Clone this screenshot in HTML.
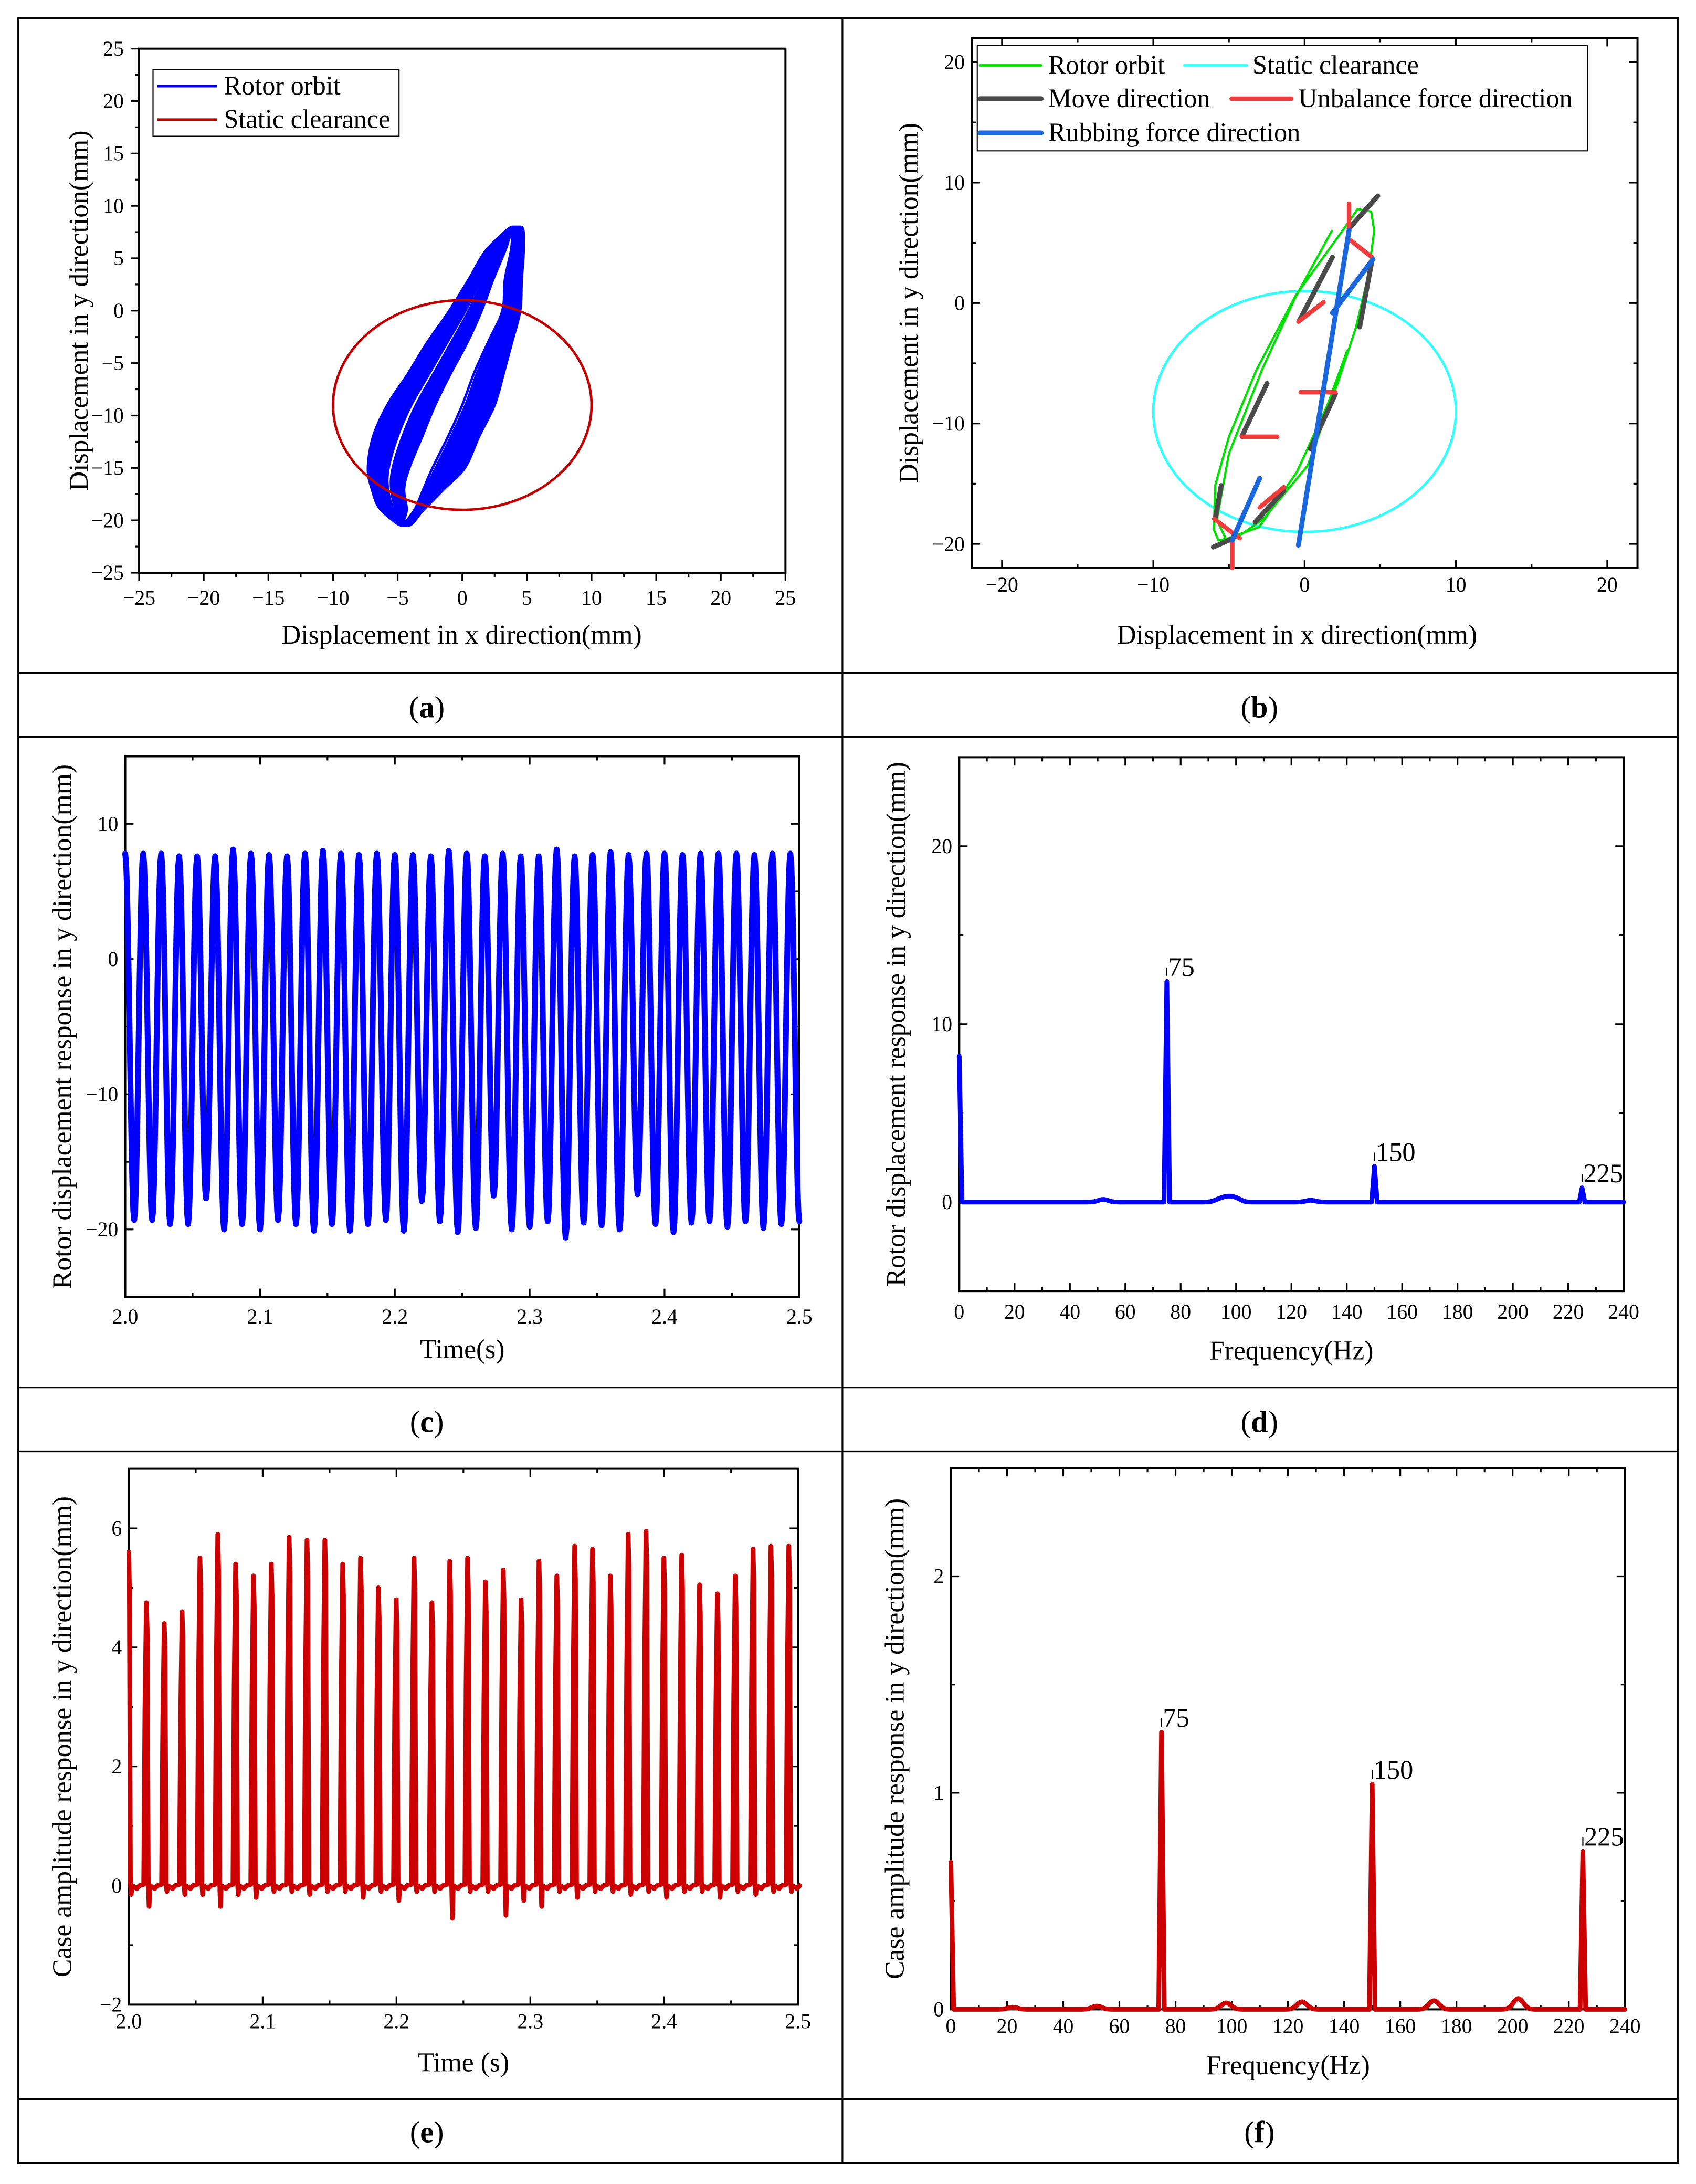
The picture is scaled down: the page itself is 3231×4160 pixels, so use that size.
<!DOCTYPE html>
<html><head><meta charset="utf-8"><style>
html,body{margin:0;padding:0;background:#fff;}
svg{display:block;font-family:"Liberation Serif",serif;}
</style></head><body>
<svg id="fig" width="3231" height="4160" viewBox="0 0 1220 1571" xmlns="http://www.w3.org/2000/svg">
<g id="frame" fill="none" stroke="#000" stroke-width="1.2">
<rect x="13" y="13" width="1194" height="1543"/>
<line x1="606" y1="13" x2="606" y2="1556"/>
<line x1="13" y1="484" x2="1207" y2="484"/><line x1="13" y1="530" x2="1207" y2="530"/>
<line x1="13" y1="998" x2="1207" y2="998"/><line x1="13" y1="1044" x2="1207" y2="1044"/>
<line x1="13" y1="1510" x2="1207" y2="1510"/>
</g>
<g font-size="22" text-anchor="middle">
<text x="307" y="516">(<tspan font-weight="bold">a</tspan>)</text>
<text x="906" y="516">(<tspan font-weight="bold">b</tspan>)</text>
<text x="307" y="1030">(<tspan font-weight="bold">c</tspan>)</text>
<text x="906" y="1030">(<tspan font-weight="bold">d</tspan>)</text>
<text x="307" y="1541">(<tspan font-weight="bold">e</tspan>)</text>
<text x="906" y="1541">(<tspan font-weight="bold">f</tspan>)</text>
</g>
</svg>
<script>
// ---------- data ----------
// (a) orbit envelope read from picture (data units), sampled at y levels
const orbitY=[8,6,3,0,-3,-6,-9,-12,-15,-17,-19,-20.5];
const orbitLeftOuter=[3.0,2.0,0.5,-1.0,-2.7,-4.2,-5.8,-6.9,-7.3,-7.0,-6.3,-5.3];
const orbitLeftInner=[3.6,3.4,2.4,1.5,0.4,-0.9,-2.1,-3.1,-4.1,-4.5,-4.3,-4.7];
const orbitRightInner=[3.8,3.8,3.3,3.1,2.0,0.9,0.0,-1.1,-2.3,-3.0,-3.7,-4.7];
const orbitRightOuter=[4.5,4.75,4.6,4.48,3.85,3.2,2.5,1.3,0.2,-1.4,-3.0,-4.2];
// per-cycle position within the band (0 = inner edge, 1 = outer edge)
const cycleRight=[0.0,0.1,0.2,0.3,0.4,0.5,0.6,0.7,0.8,0.9,1.0,0.15,0.35,0.55,0.75,0.95,0.25,0.65,0.45,0.85];
const cycleLeft=[0.05,0.9,0.3,0.7,0.15,1.0,0.5,0.25,0.85,0.4,0.6,0.0,0.95,0.2,0.75,0.35,0.55,0.1,0.8,0.65];
const clearanceA={cx:0,cy:-9,r:10};
// (b)
const greenOuterX=[3.5,4.4,4.6,4.2,3.4,2.2,0.2,-2.7,-4.4,-5.7,-6.0,-5.9,-5.0,-3.2,-0.6,2.9,3.5];
const greenOuterY=[7.8,7.6,6.0,2.2,-2.0,-6.6,-13.5,-17.9,-19.4,-19.7,-18.8,-15.1,-11.1,-5.6,0.6,6.7,7.8];
const greenInnerX=[1.8,-0.6,-2.8,-5.0,-5.8,-5.2,-3.0,-0.5,1.5,2.8];
const greenInnerY=[6.0,0.5,-5.5,-12.5,-18.0,-19.6,-18.6,-14.0,-8.5,-4.0];
const grayX1=[4.84,1.84,4.46,-2.48,2.04,-5.51,-1.37,-4.72];
const grayY1=[8.89,3.8,3.57,-6.67,-7.54,-15.15,-15.58,-19.53];
const grayX2=[2.94,-0.35,3.64,-4.14,0.38,-5.89,-3.27,-6.03];
const grayY2=[6.2,-1.46,-1.99,-11.05,-12.08,-17.78,-18.2,-20.26];
const redX1=[2.94,3.06,-0.41,-0.26,-4.14,-2.97,-5.98,-4.78];
const redY1=[8.25,5.18,-1.55,-7.4,-11.1,-16.96,-17.92,-19.68];
const redX2=[2.94,4.46,1.25,2.04,-1.81,-1.37,-4.29,-4.78];
const redY2=[6.2,3.8,0.06,-7.4,-11.1,-15.29,-19.53,-22];
const blueX1=[2.94,4.52,-2.97];
const blueY1=[6.05,3.63,-14.56];
const blueX2=[-0.41,1.84,-4.78];
const blueY2=[-20.1,-0.82,-19.68];
// (c)
const cPeaks=[7.8,7.8,7.8,7.6,7.6,7.6,8.1,7.8,7.7,7.6,7.8,8.0,7.8,7.7,7.8,7.7,7.7,7.6,8.0,7.8,7.6,7.8,7.6,7.6,8.1,7.6,7.7,7.9,7.7,7.8,7.8,7.7,7.8,7.8,7.8,7.7,7.8,7.8];
const cTroughs=[-19.3,-19.3,-19.6,-19.6,-17.7,-20.0,-19.6,-20.0,-19.3,-19.6,-20.1,-19.6,-20.1,-19.6,-19.3,-20.1,-17.9,-19.4,-20.2,-19.9,-17.5,-20.0,-19.8,-19.4,-20.6,-19.5,-19.7,-20.0,-17.4,-19.6,-20.2,-19.5,-19.4,-19.8,-19.4,-19.9,-19.6,-19.4];
const cStart=2.0, cFreq=75;
// (d)
const dPeakF=[0,75,150,225];
const dPeakA=[8.2,12.4,2.0,0.8];
const dBumpF=[52,94,97,100,127];
const dBumpA=[0.15,0.15,0.25,0.2,0.1];
const dLabels=["75","150","225"];
// (e)
const ePeaks=[5.6,4.75,4.4,4.6,5.5,5.9,5.4,5.2,5.4,5.85,5.8,5.8,5.4,5.5,5.0,4.8,5.5,4.75,5.45,5.5,5.1,5.3,4.8,5.45,5.2,5.7,5.65,5.2,5.9,5.95,5.5,5.55,5.05,4.9,5.2,5.65,5.7,5.7];
const eDips=[-0.15,-0.35,-0.1,-0.15,-0.15,-0.35,-0.15,-0.2,-0.1,-0.1,-0.15,-0.1,-0.1,-0.2,-0.1,-0.25,-0.1,-0.1,-0.55,-0.1,-0.1,-0.5,-0.25,-0.35,-0.1,-0.2,-0.1,-0.1,-0.15,-0.1,-0.2,-0.1,-0.1,-0.2,-0.1,-0.15,-0.1,-0.1];
// (f)
const fPeakF=[0,75,150,225];
const fPeakA=[0.68,1.28,1.04,0.73];
const fBumpF=[22,52,98,125,172,202];
const fBumpA=[0.01,0.015,0.03,0.035,0.04,0.05];
const fLabels=["75","150","225"];

// ---------- helpers ----------
const NS="http://www.w3.org/2000/svg";
const svg=document.getElementById('fig');
function mk(tag,attrs,parent){const e=document.createElementNS(NS,tag);for(const k in attrs)e.setAttribute(k,attrs[k]);(parent||svg).appendChild(e);return e;}
function fmt(v,dec){const s=Math.abs(v).toFixed(dec);return (v<0?"\u2212":"")+s;}
function axes(c){
  const g=mk('g',{});
  
  
  const X=v=>c.x0+(v-c.xmin)/(c.xmax-c.xmin)*(c.x1-c.x0);
  const Y=v=>c.y1-(v-c.ymin)/(c.ymax-c.ymin)*(c.y1-c.y0);
  const box=mk('rect',{x:c.x0,y:c.y0,width:c.x1-c.x0,height:c.y1-c.y0,fill:'none',stroke:'#000','stroke-width':1.5},g);
  
  
  const tg=mk('g',{stroke:'#000','stroke-width':1.2},g);
  const s=c.out?-1:1;
  c.xticks.forEach(v=>{const x=X(v);mk('line',{x1:x,x2:x,y1:c.y1,y2:c.y1-6*s},tg);if(!c.out)mk('line',{x1:x,x2:x,y1:c.y0,y2:c.y0+6},tg);});
  (c.xminor||[]).forEach(v=>{const x=X(v);mk('line',{x1:x,x2:x,y1:c.y1,y2:c.y1-3*s},tg);if(!c.out)mk('line',{x1:x,x2:x,y1:c.y0,y2:c.y0+3},tg);});
  c.yticks.forEach(v=>{const y=Y(v);mk('line',{x1:c.x0,x2:c.x0+6*s,y1:y,y2:y},tg);if(!c.out)mk('line',{x1:c.x1,x2:c.x1-6,y1:y,y2:y},tg);});
  (c.yminor||[]).forEach(v=>{const y=Y(v);mk('line',{x1:c.x0,x2:c.x0+3*s,y1:y,y2:y},tg);if(!c.out)mk('line',{x1:c.x1,x2:c.x1-3,y1:y,y2:y},tg);});
  const lg=mk('g',{'font-size':15,fill:'#000'},g);
  const off=c.out?6:0;
  c.xticks.forEach(v=>{const t=mk('text',{x:X(v),y:c.y1+(c.xlo||17)+off,'text-anchor':'middle'},lg);t.textContent=fmt(v,c.xdec);
    
    });
  c.yticks.forEach(v=>{const t=mk('text',{x:c.x0-5-off,y:Y(v)+5,'text-anchor':'end'},lg);t.textContent=fmt(v,c.ydec);
    
    });
  const xt=mk('text',{x:c.xtx||(c.x0+c.x1)/2,y:c.xty,'text-anchor':'middle','font-size':19.5},g);xt.textContent=c.xtitle;
  
  
  const yc=c.ytc||(c.y0+c.y1)/2;
  const yt=mk('text',{x:c.ytx,y:yc,'text-anchor':'middle','font-size':19.5,transform:`rotate(-90 ${c.ytx} ${yc})`},g);yt.textContent=c.ytitle;
  
  
  return {X,Y,g};
}
function poly(pts,stroke,w,parent,name,close){
  const d=pts.map((p,i)=>(i?'L':'M')+p[0].toFixed(2)+' '+p[1].toFixed(2)).join('')+(close?'Z':'');
  const p=mk('path',{d,fill:'none',stroke,'stroke-width':w,'stroke-linejoin':'round','stroke-linecap':'round'},parent);
  
  
  return p;
}
function smoothClosed(pts,stroke,w,parent,name){
  const n=pts.length;let d='M'+pts[0][0].toFixed(2)+' '+pts[0][1].toFixed(2);
  for(let i=0;i<n;i++){
    const p0=pts[(i-1+n)%n],p1=pts[i],p2=pts[(i+1)%n],p3=pts[(i+2)%n];
    const c1=[p1[0]+(p2[0]-p0[0])/6,p1[1]+(p2[1]-p0[1])/6],c2=[p2[0]-(p3[0]-p1[0])/6,p2[1]-(p3[1]-p1[1])/6];
    d+='C'+c1.map(v=>v.toFixed(2)).join(' ')+' '+c2.map(v=>v.toFixed(2)).join(' ')+' '+p2.map(v=>v.toFixed(2)).join(' ');
  }
  const p=mk('path',{d,fill:'none',stroke,'stroke-width':w,'stroke-linejoin':'round'},parent);
  
  
  return p;
}
function range(a,b,s){const r=[];for(let v=a;v<=b+1e-9;v+=s)r.push(+v.toFixed(6));return r;}

// ---------- (a) ----------
{
const A=axes({name:'panel-a',x0:100,x1:565,y0:35,y1:412,xmin:-25,xmax:25,ymin:-25,ymax:25,out:true,
  xticks:range(-25,25,5),xminor:range(-22.5,22.5,5),yticks:range(-25,25,5),yminor:range(-22.5,22.5,5),xdec:0,ydec:0,xty:463,ytx:63,xtx:332,
  xtitle:'Displacement in x direction(mm)',ytitle:'Displacement in y direction(mm)'});
const g=mk('g',{});


for(let i=0;i<cycleRight.length;i++){
  const pts=[];
  for(let k=0;k<orbitY.length;k++){const x=orbitRightInner[k]+(orbitRightOuter[k]-orbitRightInner[k])*cycleRight[i];pts.push([A.X(x),A.Y(orbitY[k])]);}
  for(let k=orbitY.length-2;k>=1;k--){const x=orbitLeftInner[k]+(orbitLeftOuter[k]-orbitLeftInner[k])*cycleLeft[i];pts.push([A.X(x),A.Y(orbitY[k])]);}
  smoothClosed(pts,'#0000ff',1.8,g,'rotor-orbit-cycle');
}
const ce=mk('ellipse',{cx:A.X(clearanceA.cx),cy:A.Y(clearanceA.cy),rx:A.X(clearanceA.r)-A.X(0),ry:A.Y(0)-A.Y(clearanceA.r),fill:'none',stroke:'#c00000','stroke-width':1.8});


const lg=mk('g',{'font-size':19});


mk('rect',{x:110,y:50,width:177,height:48,fill:'#fff',stroke:'#000','stroke-width':0.8},lg);
mk('line',{x1:113,x2:156,y1:62,y2:62,stroke:'#0000ff','stroke-width':1.8},lg);
mk('line',{x1:113,x2:156,y1:86,y2:86,stroke:'#c00000','stroke-width':1.8},lg);
const t1=mk('text',{x:161,y:68},lg);t1.textContent='Rotor orbit';


const t2=mk('text',{x:161,y:92},lg);t2.textContent='Static clearance';


}
// ---------- (b) ----------
{
const A=axes({name:'panel-b',x0:699,x1:1178,y0:27.4,y1:408.6,xmin:-22,xmax:22,ymin:-22,ymax:22,
  xticks:range(-20,20,10),xminor:range(-15,15,10),yticks:range(-20,20,10),yminor:range(-15,15,10),xdec:0,ydec:0,xty:463,ytx:660,xtx:933,
  xtitle:'Displacement in x direction(mm)',ytitle:'Displacement in y direction(mm)'});
const ce=mk('ellipse',{cx:A.X(0),cy:A.Y(-9),rx:A.X(10)-A.X(0),ry:A.Y(0)-A.Y(10),fill:'none',stroke:'#33ffff','stroke-width':1.8});


poly(greenOuterX.map((x,i)=>[A.X(x),A.Y(greenOuterY[i])]),'#00e000',1.6,svg,'rotor-orbit-outer');
poly(greenInnerX.map((x,i)=>[A.X(x),A.Y(greenInnerY[i])]),'#00e000',1.6,svg,'rotor-orbit-inner');
grayX1.forEach((x,i)=>poly([[A.X(x),A.Y(grayY1[i])],[A.X(grayX2[i]),A.Y(grayY2[i])]],'#4a4a4a',3.5,svg,'move-direction-arrow'));
redX1.forEach((x,i)=>poly([[A.X(x),A.Y(redY1[i])],[A.X(redX2[i]),A.Y(redY2[i])]],'#ee3b3b',3.2,svg,'unbalance-force-arrow'));
blueX1.forEach((x,i)=>poly([[A.X(x),A.Y(blueY1[i])],[A.X(blueX2[i]),A.Y(blueY2[i])]],'#1a66dd',3.5,svg,'rubbing-force-arrow'));
const lg=mk('g',{'font-size':19});


mk('rect',{x:703,y:32.5,width:439,height:76,fill:'#fff',stroke:'#000','stroke-width':0.8},lg);
const items=[[705,749,47,'#00e000',1.8,754,'Rotor orbit'],[852,897,47,'#33ffff',1.8,901,'Static clearance'],
 [705,749,71,'#4a4a4a',3.5,754,'Move direction'],[886,929,71,'#ee3b3b',3.2,934,'Unbalance force direction'],
 [705,749,95.6,'#1a66dd',3.5,754,'Rubbing force direction']];
items.forEach(it=>{mk('line',{x1:it[0],x2:it[1],y1:it[2],y2:it[2],stroke:it[3],'stroke-width':it[4],'stroke-linecap':'round'},lg);
  const t=mk('text',{x:it[5],y:it[2]+6},lg);t.textContent=it[6];
  
  });
}
// ---------- (c) ----------
{
const A=axes({name:'panel-c',x0:90,x1:575,y0:544,y1:933,xmin:2.0,xmax:2.5,ymin:-25,ymax:15,xlo:19,
  xticks:range(2.0,2.5,0.1),xminor:range(2.05,2.45,0.1),yticks:[-20,-10,0,10],yminor:[-15,-5,5],xdec:1,ydec:0,xty:977,ytx:51,
  xtitle:'Time(s)',ytitle:'Rotor displacement response in y direction(mm)'});
const T=1/cFreq,pts=[];
for(let i=0;i<cPeaks.length;i++){
  const p=cPeaks[i],tr=cTroughs[i],np=cPeaks[Math.min(i+1,cPeaks.length-1)];
  for(let k=0;k<10;k++){const f=k/10;const t=cStart+i*T+f*T/2;pts.push([A.X(t),A.Y(tr+(p-tr)*(1+Math.cos(Math.PI*f))/2)]);}
  for(let k=0;k<10;k++){const f=k/10;const t=cStart+(i+0.5)*T+f*T/2;if(t>2.5)break;pts.push([A.X(t),A.Y(tr+(np-tr)*(1-Math.cos(Math.PI*f))/2)]);}
}
poly(pts,'#0000ff',4.2,svg,'rotor-displacement-series');
}
// ---------- spectrum helper ----------
function spectrum(A,pf,pa,bf,ba,xmax,width){
  const pts=[];
  for(let f=0;f<=xmax;f+=0.25){
    let v=0;
    pf.forEach((p,i)=>{const d=Math.abs(f-p);if(d<width)v=Math.max(v,pa[i]*(1-d/width));});
    bf.forEach((b,i)=>{v+=ba[i]*Math.exp(-Math.pow((f-b)/2.5,2));});
    pts.push([A.X(f),A.Y(v)]);
  }
  return pts;
}
// ---------- (d) ----------
{
const A=axes({name:'panel-d',x0:690,x1:1168,y0:544.7,y1:928.7,xmin:0,xmax:240,ymin:-5,ymax:25,xlo:20,
  xticks:range(0,240,20),xminor:range(10,230,20),yticks:[0,10,20],yminor:[-5,5,15,25],xdec:0,ydec:0,xty:978,ytx:651,
  xtitle:'Frequency(Hz)',ytitle:'Rotor displacement response in y direction(mm)'});
poly(spectrum(A,dPeakF,dPeakA,dBumpF,dBumpA,240,1.0),'#0000ff',3.4,svg,'rotor-spectrum-series');
dLabels.forEach((l,i)=>{const f=dPeakF[i+1],a=dPeakA[i+1];
  const t=mk('text',{x:A.X(f)+1,y:A.Y(a)-4,'font-size':19});t.textContent=l;
  
  
  const m=mk('line',{x1:A.X(f),x2:A.X(f),y1:A.Y(a)-4,y2:A.Y(a)-10,stroke:'#000','stroke-width':0.8});
  
  });
}
// ---------- (e) ----------
{
const A=axes({name:'panel-e',x0:92.6,x1:574,y0:1056.5,y1:1442,xmin:2.0,xmax:2.5,ymin:-2,ymax:7,
  xticks:range(2.0,2.5,0.1),xminor:range(2.05,2.45,0.1),yticks:[-2,0,2,4,6],yminor:[-1,1,3,5,7],xdec:1,ydec:0,xty:1490,ytx:51,
  xtitle:'Time (s)',ytitle:'Case amplitude response in y direction(mm)'});
const T=1/75,pts=[[A.X(2.0),A.Y(ePeaks[0])]];
for(let i=0;i<ePeaks.length;i++){
  const t=2.0+i*T,p=ePeaks[i];
  if(i>0){pts.push([A.X(t-0.0022),A.Y(0.02)]);pts.push([A.X(t-0.0013),A.Y(p*0.62)]);pts.push([A.X(t-0.0002),A.Y(p)]);}
  pts.push([A.X(t+0.0004),A.Y(p*0.9)]);
  pts.push([A.X(t+0.0012),A.Y(0.05)]);
  pts.push([A.X(t+0.0018),A.Y(eDips[i])]);
  pts.push([A.X(t+0.0024),A.Y(0)]);
  pts.push([A.X(t+0.006),A.Y(-0.05)]);
  pts.push([A.X(t+0.008),A.Y(0)]);
}
poly(pts,'#cc0000',3.4,svg,'case-amplitude-series');
}
// ---------- (f) ----------
{
const A=axes({name:'panel-f',x0:684,x1:1169,y0:1056,y1:1445.4,xmin:0,xmax:240,ymin:0,ymax:2.5,
  xticks:range(0,240,20),xminor:range(10,230,20),yticks:[0,1,2],yminor:[0.5,1.5,2.5],xdec:0,ydec:0,xty:1492,ytx:650,
  xtitle:'Frequency(Hz)',ytitle:'Case amplitude response in y direction(mm)'});
poly(spectrum(A,fPeakF,fPeakA,fBumpF,fBumpA,240,1.0),'#cc0000',3.4,svg,'case-spectrum-series');
fLabels.forEach((l,i)=>{const f=fPeakF[i+1],a=fPeakA[i+1];
  const t=mk('text',{x:A.X(f)+1,y:A.Y(a)-4,'font-size':19});t.textContent=l;
  
  
  const m=mk('line',{x1:A.X(f),x2:A.X(f),y1:A.Y(a)-4,y2:A.Y(a)-10,stroke:'#000','stroke-width':0.8});
  
  });
}
</script>
</body></html>
